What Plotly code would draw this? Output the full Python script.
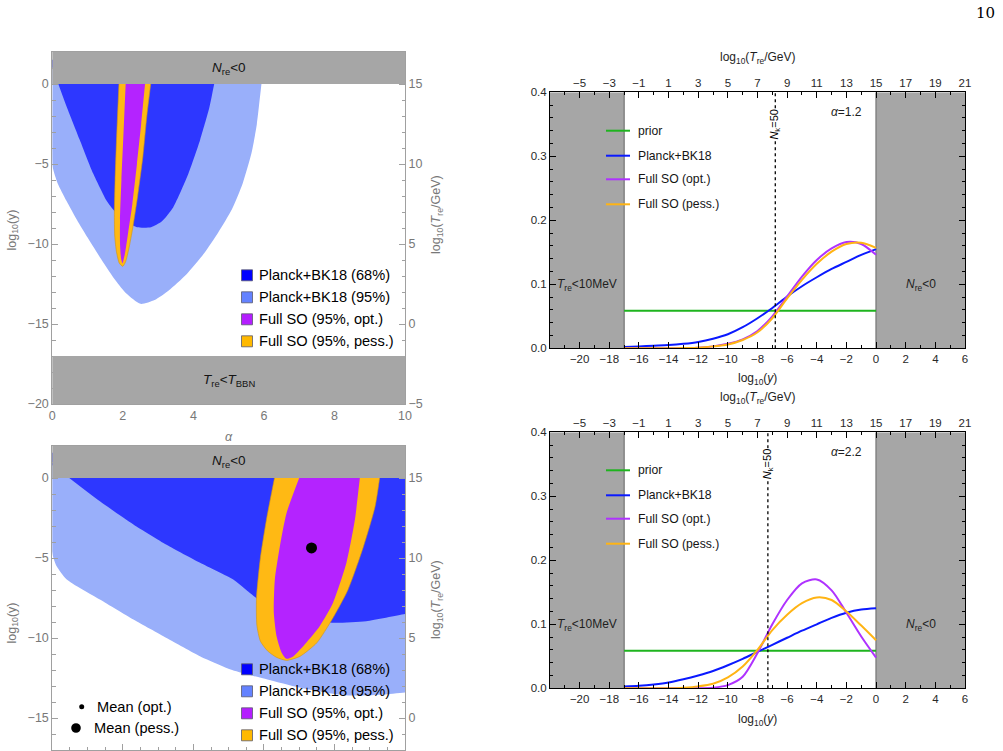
import plotly.graph_objects as go

W, H = 1003, 751

# ---------------- data: left panels (alpha, log10 y) contour boundaries ----------------
# (points above log10 y = 0 lie under the grey "N_re<0" band and only close the outlines)
# Top-left panel
tl_p95_alpha = [0.0, 6.01, 5.93, 5.8, 5.65, 5.4, 5.1, 4.7, 4.3, 3.8, 3.3, 2.9, 2.5, 2.1, 1.8, 1.4, 1.0, 0.7, 0.4, 0.15, 0.02, 0.0, 0.0]
tl_p95_logy = [1.5, 1.5, 0.0, -2.5, -4.3, -6.2, -7.8, -9.3, -10.6, -11.9, -12.9, -13.5, -13.74, -13.1, -12.3, -11.0, -9.6, -8.5, -7.3, -6.2, -5.3, -5.0, 0.0]

tl_p68_alpha = [-0.08, 4.73, 4.59, 4.45, 4.19, 3.86, 3.43, 3.1, 2.8, 2.4, 2.1, 1.75, 1.54, 1.16, 0.78, 0.41, 0.17]
tl_p68_logy = [1.5, 1.5, 0.0, -1.5, -3.5, -5.6, -7.7, -8.6, -8.95, -8.95, -8.6, -7.9, -7.3, -5.6, -3.5, -1.44, 0.0]

tl_pess_alpha = [1.92, 2.87, 2.79, 2.68, 2.57, 2.42, 2.28, 2.17, 2.08, 2.0, 1.9, 1.82, 1.77, 1.76, 1.78, 1.83, 1.89]
tl_pess_logy = [1.5, 1.5, 0.0, -2.0, -4.5, -7.0, -9.0, -10.3, -11.1, -11.4, -11.2, -10.5, -9.5, -8.0, -6.0, -3.0, 0.0]

tl_opt_alpha = [2.11, 2.70, 2.63, 2.52, 2.4, 2.27, 2.15, 2.06, 1.99, 1.95, 1.92, 1.92, 1.96, 2.02, 2.08]
tl_opt_logy = [1.5, 1.5, 0.0, -2.5, -5.0, -7.5, -9.3, -10.6, -11.2, -10.9, -10.0, -8.5, -6.0, -3.0, 0.0]

# Bottom-left panel
bl_p95_alpha = [-0.3, 10.5, 10.5, 10.0, 9.3, 8.5, 8.0, 7.0, 6.1, 5.1, 4.2, 3.24, 2.3, 1.35, 0.41, 0.12, 0.02, -0.05]
bl_p95_logy = [1.5, 1.5, -13.3, -13.4, -13.55, -13.6, -13.5, -13.1, -12.6, -12.0, -11.15, -10.0, -8.85, -7.6, -6.35, -5.5, -4.9, -4.0]

bl_p68_alpha = [-0.42, 10.5, 10.5, 10.0, 8.9, 8.0, 7.3, 6.5, 5.85, 5.5, 5.13, 4.19, 3.24, 2.3, 1.35, 0.48]
bl_p68_logy = [1.5, 1.5, -8.35, -8.5, -8.95, -9.05, -8.9, -8.4, -7.6, -7.0, -6.35, -5.3, -4.17, -2.9, -1.46, 0.0]

bl_pess_alpha = [6.45, 9.36, 9.28, 9.15, 8.82, 8.38, 7.93, 7.5, 7.02, 6.64, 6.35, 6.1, 5.9, 5.8, 5.79, 5.9, 6.08, 6.3]
bl_pess_logy = [1.5, 1.5, 0.0, -1.8, -4.3, -7.0, -8.85, -10.3, -11.15, -11.4, -11.2, -10.8, -10.2, -9.2, -7.5, -5.0, -2.5, 0.0]

bl_opt_alpha = [7.25, 8.8, 8.72, 8.58, 8.34, 7.96, 7.58, 7.2, 6.83, 6.64, 6.5, 6.36, 6.28, 6.31, 6.45, 6.64, 7.0]
bl_opt_logy = [1.5, 1.5, 0.0, -2.6, -5.3, -7.8, -9.27, -10.3, -11.15, -11.3, -10.9, -9.9, -8.4, -6.35, -4.3, -2.2, 0.0]

mean_alpha = [7.35]
mean_logy = [-4.37]

# ---------------- data: right panels (posterior of log10 y) ----------------
logy_grid = [-17, -16, -15, -14, -13, -12, -11, -10, -9, -8, -7, -6, -5, -4, -3, -2, -1, 0]
prior_val = [1 / 17] * len(logy_grid)

a12_planck = [0.002, 0.003, 0.004, 0.005, 0.007, 0.010, 0.015, 0.022, 0.033, 0.047, 0.063, 0.081, 0.097, 0.111, 0.124, 0.135, 0.146, 0.155]
a12_opt = [0.0, 0.0, 0.0, 0.0, 0.0005, 0.001, 0.003, 0.007, 0.014, 0.027, 0.050, 0.081, 0.112, 0.138, 0.156, 0.166, 0.163, 0.146]
a12_pess = [0.0, 0.0, 0.0, 0.0, 0.0005, 0.001, 0.003, 0.006, 0.013, 0.025, 0.047, 0.078, 0.107, 0.132, 0.151, 0.163, 0.165, 0.157]

a22_planck = [0.003, 0.004, 0.006, 0.009, 0.014, 0.020, 0.027, 0.036, 0.046, 0.057, 0.068, 0.079, 0.090, 0.100, 0.110, 0.118, 0.123, 0.125]
a22_opt = [0.0, 0.0, 0.0, 0.0, 0.0, 0.0, 0.001, 0.005, 0.018, 0.055, 0.100, 0.138, 0.164, 0.170, 0.153, 0.118, 0.081, 0.048]
a22_pess = [0.0, 0.0, 0.0, 0.0, 0.001, 0.003, 0.007, 0.017, 0.034, 0.060, 0.091, 0.115, 0.133, 0.142, 0.138, 0.120, 0.098, 0.075]

nk50_a12 = -6.8
nk50_a22 = -7.3

left_legend = ["Planck+BK18 (68%)", "Planck+BK18 (95%)", "Full SO (95%, opt.)", "Full SO (95%, pess.)"]
right_legend = ["prior", "Planck+BK18", "Full SO (opt.)", "Full SO (pess.)"]

# ---------------- styles ----------------
FONT = "Liberation Sans"
GRAY_BAND = "rgb(166,166,166)"
C_P95 = "rgb(153,175,250)"
C_P68 = "rgb(45,55,255)"
C_OPT = "rgb(180,35,255)"
C_PESS = "rgb(255,185,20)"
LEG_FILL = ["rgb(0,0,255)", "rgb(100,130,255)", "rgb(180,30,255)", "rgb(255,185,0)"]
LINE_COLORS = ["rgb(30,180,30)", "rgb(10,25,255)", "rgb(175,50,255)", "rgb(255,180,20)"]
AX_GRAY = "rgb(160,160,160)"
TICK_GRAY = "rgb(120,120,120)"


def px(v):
    return v / W


def py(v):
    return 1 - v / H


fig = go.Figure()


def add_fill(xs, ys, color, xa, ya, outline=None):
    fig.add_trace(go.Scatter(x=xs, y=ys, mode="lines", fill="toself", fillcolor=color,
                             line=dict(color=outline or color, width=0.6 if outline else 0,
                                       shape="spline", smoothing=0.6),
                             xaxis=xa, yaxis=ya, showlegend=False, hoverinfo="skip"))


add_fill(tl_p95_alpha, tl_p95_logy, C_P95, "x", "y")
add_fill(tl_p68_alpha, tl_p68_logy, C_P68, "x", "y")
add_fill(tl_pess_alpha, tl_pess_logy, C_PESS, "x", "y", "rgb(210,150,20)")
add_fill(tl_opt_alpha, tl_opt_logy, C_OPT, "x", "y")

add_fill(bl_p95_alpha, bl_p95_logy, C_P95, "x2", "y3")
add_fill(bl_p68_alpha, bl_p68_logy, C_P68, "x2", "y3")
add_fill(bl_pess_alpha, bl_pess_logy, C_PESS, "x2", "y3", "rgb(210,150,20)")
add_fill(bl_opt_alpha, bl_opt_logy, C_OPT, "x2", "y3")
fig.add_trace(go.Scatter(x=mean_alpha, y=mean_logy, mode="markers", marker=dict(color="black", size=11),
                         xaxis="x2", yaxis="y3", showlegend=False, hoverinfo="skip"))
fig.add_trace(go.Scatter(x=mean_alpha, y=mean_logy, mode="markers", marker=dict(color="black", size=5),
                         xaxis="x2", yaxis="y3", showlegend=False, hoverinfo="skip"))

# dummy traces to activate secondary axes
for xa, ya in [("x", "y2"), ("x2", "y4"), ("x4", "y5"), ("x6", "y6")]:
    fig.add_trace(go.Scatter(x=[None], y=[None], xaxis=xa, yaxis=ya, showlegend=False, hoverinfo="skip"))

# right panel curves
for (xa, ya, series) in [("x3", "y5", [prior_val, a12_planck, a12_opt, a12_pess]),
                         ("x5", "y6", [prior_val, a22_planck, a22_opt, a22_pess])]:
    for i, vals in enumerate(series):
        fig.add_trace(go.Scatter(x=logy_grid, y=vals, mode="lines",
                                 line=dict(color=LINE_COLORS[i], width=2, shape="spline" if i else "linear", smoothing=0.8),
                                 xaxis=xa, yaxis=ya, showlegend=False, hoverinfo="skip"))

shapes = []
annotations = []

# ---------------- axes ----------------
tl_dom_x = [px(52.3), px(405)]
tl_dom_y = [py(404), py(52)]
bl_dom_y = [py(750), py(446)]
r_dom_x = [px(550), px(965)]
tr_dom_y = [py(348.3), py(92.3)]
br_dom_y = [py(688.3), py(432.3)]

lfont = dict(family=FONT, size=12.5, color=TICK_GRAY)
rfont = dict(family=FONT, size=11.5, color="rgb(40,40,40)")


def lminor(dt):
    return dict(ticks="inside", ticklen=3.5, tickcolor=AX_GRAY, tickwidth=1, dtick=dt, tick0=0, showgrid=False)


def rminor(dt):
    return dict(ticks="inside", ticklen=3, tickcolor="black", tickwidth=1, dtick=dt, tick0=0, showgrid=False)


def left_axis(**kw):
    d = dict(showgrid=False, zeroline=False, showline=True, linecolor=AX_GRAY, linewidth=1, automargin=False,
             ticks="inside", ticklen=6, tickcolor=AX_GRAY, tickwidth=1, tickfont=lfont)
    d.update(kw)
    return d


def right_axis(**kw):
    d = dict(showgrid=False, zeroline=False, showline=True, linecolor="black", linewidth=1, automargin=False,
             ticks="inside", ticklen=6, tickcolor="black", tickwidth=1, tickfont=rfont)
    d.update(kw)
    return d


layout_axes = dict(
    xaxis=left_axis(domain=tl_dom_x, anchor="y", range=[0, 10], tickvals=[0, 2, 4, 6, 8, 10], mirror="ticks",
                    minor=lminor(0.5)),
    yaxis=left_axis(domain=tl_dom_y, anchor="x", range=[-20, 2], tickvals=[-20, -15, -10, -5, 0], minor=lminor(1)),
    yaxis2=left_axis(overlaying="y", side="right", anchor="x", range=[-5, 17], tickvals=[-5, 0, 5, 10, 15],
                     minor=lminor(1)),
    xaxis2=left_axis(domain=tl_dom_x, anchor="y3", range=[0, 10], tickvals=[0, 2, 4, 6, 8, 10], mirror="ticks",
                     showticklabels=False, minor=lminor(0.5)),
    yaxis3=left_axis(domain=bl_dom_y, anchor="x2", range=[-17, 2], tickvals=[-15, -10, -5, 0], minor=lminor(1)),
    yaxis4=left_axis(overlaying="y3", side="right", anchor="x2", range=[-2, 17], tickvals=[0, 5, 10, 15],
                     minor=lminor(1)),
    xaxis3=right_axis(domain=r_dom_x, anchor="y5", range=[-22, 6], tickvals=list(range(-20, 7, 2)), minor=rminor(1)),
    xaxis4=right_axis(overlaying="x3", side="top", anchor="y5", range=[-7, 21], tickvals=list(range(-5, 22, 2)),
                      minor=rminor(1)),
    yaxis5=right_axis(domain=tr_dom_y, anchor="x3", range=[0, 0.4], tickvals=[0, 0.1, 0.2, 0.3, 0.4],
                      tickformat=".1f", mirror="ticks", minor=rminor(0.02)),
    xaxis5=right_axis(domain=r_dom_x, anchor="y6", range=[-22, 6], tickvals=list(range(-20, 7, 2)), minor=rminor(1)),
    xaxis6=right_axis(overlaying="x5", side="top", anchor="y6", range=[-7, 21], tickvals=list(range(-5, 22, 2)),
                      minor=rminor(1)),
    yaxis6=right_axis(domain=br_dom_y, anchor="x5", range=[0, 0.4], tickvals=[0, 0.1, 0.2, 0.3, 0.4],
                      tickformat=".1f", mirror="ticks", minor=rminor(0.02)),
)

# ---------------- gray bands ----------------
shapes.append(dict(type="rect", xref="x", yref="y", x0=-1, x1=11, y0=0, y1=3, fillcolor=GRAY_BAND, line=dict(width=0), layer="above"))
shapes.append(dict(type="rect", xref="x", yref="y", x0=-1, x1=11, y0=-21, y1=-17, fillcolor=GRAY_BAND, line=dict(width=0), layer="above"))
shapes.append(dict(type="rect", xref="x2", yref="y3", x0=-1, x1=11, y0=0, y1=3, fillcolor=GRAY_BAND, line=dict(width=0), layer="above"))

for xa, ya in [("x3", "y5"), ("x5", "y6")]:
    shapes.append(dict(type="rect", xref=xa, yref=ya, x0=-22, x1=-17, y0=0, y1=0.4, fillcolor=GRAY_BAND,
                       line=dict(width=0), layer="below"))
    shapes.append(dict(type="rect", xref=xa, yref=ya, x0=0, x1=6, y0=0, y1=0.4, fillcolor=GRAY_BAND,
                       line=dict(width=0), layer="below"))
    for xv in (-17, 0):
        shapes.append(dict(type="line", xref=xa, yref=ya, x0=xv, x1=xv, y0=0, y1=0.4,
                           line=dict(color="rgb(130,130,130)", width=1.5), layer="below"))

# N_k = 50 dotted lines
for xa, ya, xv in [("x3", "y5", nk50_a12), ("x5", "y6", nk50_a22)]:
    shapes.append(dict(type="line", xref=xa, yref=ya, x0=xv, x1=xv, y0=0, y1=0.4,
                       line=dict(color="black", width=1.3, dash="dot"), layer="above"))
    annotations.append(dict(xref=xa, yref=ya, x=xv, y=0.35, xanchor="center", yanchor="middle",
                            text="<i>N</i><sub>k</sub>=50", textangle=-90,
                            showarrow=False, bgcolor="white", borderpad=0,
                            font=dict(family=FONT, size=11, color="black")))

# band labels
band_font = dict(family=FONT, size=13.5, color="rgb(20,20,20)")
for xa, ya, xv, yv, txt in [("x", "y", 5, 1, "<i>N</i><sub>re</sub>&lt;0"),
                            ("x", "y", 5, -18.5, "<i>T</i><sub>re</sub>&lt;<i>T</i><sub>BBN</sub>"),
                            ("x2", "y3", 5, 1, "<i>N</i><sub>re</sub>&lt;0")]:
    annotations.append(dict(xref=xa, yref=ya, x=xv, y=yv, xanchor="center", yanchor="middle", text=txt,
                            showarrow=False, font=band_font))

rlab_font = dict(family=FONT, size=12, color="rgb(30,30,30)")
for xa, ya, alab in [("x3", "y5", "<i>α</i>=1.2"), ("x5", "y6", "<i>α</i>=2.2")]:
    annotations.append(dict(xref=xa, yref=ya, x=-19.5, y=0.099, xanchor="center", yanchor="middle",
                            text="<i>T</i><sub>re</sub>&lt;10MeV", showarrow=False, font=rlab_font))
    annotations.append(dict(xref=xa, yref=ya, x=3.05, y=0.099, xanchor="center", yanchor="middle",
                            text="<i>N</i><sub>re</sub>&lt;0", showarrow=False, font=rlab_font))
    annotations.append(dict(xref=xa, yref=ya, x=-2, y=0.369, xanchor="center", yanchor="middle",
                            text=alab, showarrow=False, font=rlab_font))

# ---------------- axis titles (paper) ----------------
ltitle = dict(family=FONT, size=12.5, color=TICK_GRAY)


def pann(x, y, text, font, angle=0, xanchor="center"):
    annotations.append(dict(xref="paper", yref="paper", x=px(x), y=py(y), xanchor=xanchor, yanchor="middle",
                            text=text, textangle=angle, showarrow=False, font=font))


pann(228.5, 437, "<i>α</i>", ltitle)
pann(12.5, 230, "log<sub>10</sub>(y)", ltitle, -90)
pann(12.5, 623, "log<sub>10</sub>(y)", ltitle, -90)
pann(437, 215, "log<sub>10</sub>(<i>T</i><sub>re</sub>/GeV)", ltitle, -90)
pann(437, 600, "log<sub>10</sub>(<i>T</i><sub>re</sub>/GeV)", ltitle, -90)

rtitle = dict(family=FONT, size=12, color="rgb(30,30,30)")
for ybot, ytop in [(379.3, 58.3), (720, 398.3)]:
    pann(757.3, ybot, "log<sub>10</sub>(<i>y</i>)", rtitle)
    pann(757.3, ytop, "log<sub>10</sub>(<i>T</i><sub>re</sub>/GeV)", rtitle)

# page number
pann(985, 13, "10", dict(family="DejaVu Serif", size=15, color="black"))

# ---------------- legends (manual) ----------------
leg_font = dict(family=FONT, size=14.6, color="black")
for ylist in ([275.3, 297.3, 319.3, 341.3], [669.3, 691.3, 713.3, 735.3]):
    for i, yc in enumerate(ylist):
        shapes.append(dict(type="rect", xref="paper", yref="paper", x0=px(241.5), x1=px(252.5),
                           y0=py(yc + 5.5), y1=py(yc - 5.5),
                           fillcolor=LEG_FILL[i], line=dict(color="rgb(90,90,110)", width=0.8), layer="above"))
        pann(256.5, yc, left_legend[i], leg_font, xanchor="left")

shapes.append(dict(type="circle", xref="paper", yref="paper", x0=px(79.2), x1=px(84.2), y0=py(709.2), y1=py(704.2),
                   fillcolor="black", line=dict(width=0), layer="above"))
shapes.append(dict(type="circle", xref="paper", yref="paper", x0=px(71.2), x1=px(80.8), y0=py(732.8), y1=py(723.2),
                   fillcolor="black", line=dict(width=0), layer="above"))
pann(94.5, 706.7, "Mean (opt.)", leg_font, xanchor="left")
pann(92, 728.3, "Mean (pess.)", leg_font, xanchor="left")

rleg_font = dict(family=FONT, size=12.2, color="rgb(20,20,20)")
for ylist in ([130.7, 155.7, 179.3, 204.3], [470.3, 495.3, 518.7, 543.7]):
    for i, yc in enumerate(ylist):
        shapes.append(dict(type="line", xref="paper", yref="paper", x0=px(606), x1=px(630), y0=py(yc), y1=py(yc),
                           line=dict(color=LINE_COLORS[i], width=2), layer="above"))
        pann(635.5, yc, right_legend[i], rleg_font, xanchor="left")

fig.update_layout(
    width=W, height=H, margin=dict(l=0, r=0, t=0, b=0, autoexpand=False),
    paper_bgcolor="white", plot_bgcolor="white",
    showlegend=False, font=dict(family=FONT),
    shapes=shapes, annotations=annotations,
    **layout_axes,
)

fig.write_html("out.html")
